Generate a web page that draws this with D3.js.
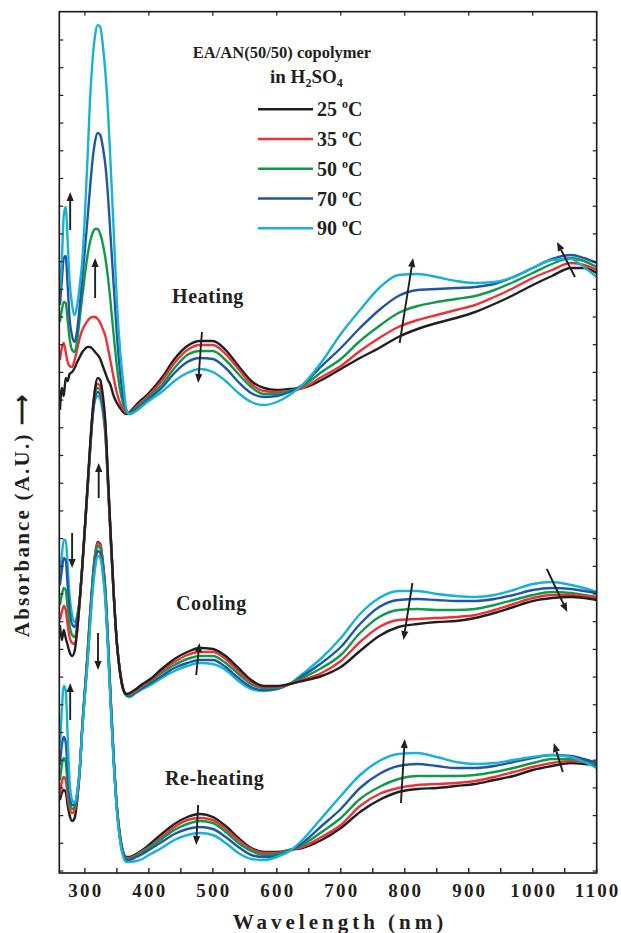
<!DOCTYPE html>
<html>
<head>
<meta charset="utf-8">
<script src="https://cdn.jsdelivr.net/npm/d3@7"></script>
<style>
  html, body { margin: 0; padding: 0; background: #fff; }
  svg { display: block; }
  text { font-family: "Liberation Serif", "Times New Roman", serif; font-weight: bold; fill: #231f20; }
</style>
</head>
<body>
<svg id="chart" width="621" height="933"></svg>
<script>
// Wavelength grid (nm) shared by every spectrum
const wavelengths = [
  261, 264, 267, 270, 273, 276, 280, 284, 288, 292, 296, 300, 304, 308, 312, 316, 320, 324, 328, 332,
  336, 340, 345, 350, 355, 360, 365, 370, 380, 390,
  400, 420, 440, 460, 480, 500, 520, 540, 560, 580, 600, 620, 640, 670, 700, 730, 760, 790, 820, 850,
  880, 910, 940, 970, 1000, 1030, 1060, 1080, 1100
];

const temperatures = ["25", "35", "50", "70", "90"];

// Absorbance (arbitrary units, stacked traces) — first heating
const heating25 = [590, 612, 604, 622, 619, 626, 628, 632, 638, 643, 648, 651, 653, 653, 651, 648, 645, 641, 634, 627,
  620, 615, 604, 597, 592, 588, 586, 588, 595, 601,
  607, 622, 641, 654, 659, 659, 650, 634, 619, 612, 610, 611, 612, 620, 631, 642, 652, 663, 671, 677,
  682, 688, 696, 705, 715, 724, 732, 732, 727];
const heating35 = [640, 652, 657, 648, 638, 634, 633, 640, 651, 662, 670, 675, 679, 682, 683, 683, 681, 677, 671, 664,
  652, 639, 622, 607, 597, 591, 587, 587, 593, 599,
  605, 619, 637, 650, 655, 655, 646, 631, 616, 609, 608, 609, 612, 623, 634, 649, 662, 673, 680, 685,
  690, 695, 703, 712, 722, 730, 737, 735, 730];
const heating50 = [678, 690, 698, 697, 680, 662, 650, 648, 660, 682, 704, 725, 744, 758, 767, 771, 771, 766, 756, 742,
  723, 699, 665, 634, 610, 596, 588, 587, 592, 597,
  603, 615, 632, 645, 649, 649, 640, 626, 613, 606, 606, 609, 614, 628, 641, 659, 674, 687, 694, 698,
  701, 704, 710, 718, 727, 736, 742, 739, 733];
const heating70 = [695, 720, 742, 744, 715, 682, 664, 658, 670, 695, 722, 750, 780, 812, 840, 859, 867, 865, 853, 835,
  805, 765, 715, 665, 628, 602, 589, 586, 591, 595,
  601, 612, 627, 638, 642, 641, 632, 618, 607, 603, 604, 608, 615, 634, 652, 672, 690, 704, 710, 711,
  712, 713, 716, 723, 732, 741, 745, 742, 737];
const heating90 = [710, 740, 785, 793, 760, 720, 695, 685, 695, 715, 740, 785, 840, 900, 940, 965, 975, 973, 955, 928,
  890, 838, 770, 698, 650, 617, 590, 586, 589, 594,
  599, 608, 619, 627, 631, 628, 619, 607, 598, 595, 598, 605, 615, 638, 666, 690, 712, 725, 726, 723,
  719, 717, 718, 723, 732, 740, 741, 733, 723];

// Cooling
const cooling25 = [375, 360, 370, 362, 355, 348, 344, 349, 370, 400, 435, 473, 513, 553, 588, 612, 622, 620, 605, 578,
  525, 470, 407, 357, 327, 310, 306, 307, 311, 316,
  320, 331, 341, 348, 352, 351, 344, 332, 320, 314, 314, 316, 319, 324, 333, 349, 364, 373, 376, 378,
  379, 382, 387, 393, 399, 402, 403, 402, 400];
const cooling35 = [380, 388, 394, 390, 375, 363, 357, 356, 370, 399, 434, 472, 511, 551, 587, 610, 616, 614, 600, 575,
  522, 468, 407, 357, 328, 311, 306, 306, 310, 315,
  319, 329, 338, 345, 348, 348, 341, 329, 318, 313, 313, 316, 320, 327, 339, 358, 373, 380, 381, 382,
  383, 385, 390, 396, 402, 405, 405, 404, 402];
const cooling50 = [395, 405, 412, 410, 392, 375, 365, 363, 375, 400, 434, 472, 510, 550, 586, 607, 612, 610, 597, 572,
  520, 467, 406, 357, 328, 311, 305, 305, 309, 314,
  318, 327, 335, 341, 344, 344, 337, 326, 316, 312, 312, 316, 322, 332, 345, 367, 383, 390, 391, 390,
  390, 391, 395, 400, 405, 408, 407, 405, 403];
const cooling70 = [415, 430, 442, 440, 415, 390, 376, 373, 382, 401, 434, 471, 509, 548, 583, 603, 608, 605, 592, 568,
  518, 466, 406, 357, 328, 311, 305, 304, 308, 312,
  316, 324, 332, 337, 340, 340, 333, 322, 313, 310, 311, 316, 324, 337, 353, 376, 393, 400, 401, 400,
  399, 399, 401, 405, 410, 412, 411, 409, 407];
const cooling90 = [425, 445, 460, 460, 435, 405, 385, 378, 385, 402, 434, 471, 510, 548, 582, 600, 604, 601, 588, 564,
  515, 465, 405, 357, 328, 311, 304, 303, 307, 311,
  314, 322, 329, 334, 337, 336, 330, 319, 311, 309, 311, 316, 326, 342, 362, 386, 402, 409, 409, 406,
  404, 403, 405, 410, 416, 418, 415, 412, 408];

// Re-heating
const reheating25 = [200, 207, 210, 208, 195, 185, 179, 182, 200, 230, 275, 310, 345, 385, 420, 446, 458, 456, 438, 410,
  360, 306, 243, 194, 164, 148, 143, 143, 146, 150,
  155, 166, 176, 183, 186, 183, 174, 162, 152, 148, 148, 150, 152, 160, 172, 188, 200, 208, 211, 212,
  214, 216, 220, 224, 230, 234, 237, 236, 235];
const reheating35 = [205, 218, 223, 220, 203, 192, 187, 190, 203, 230, 274, 309, 344, 384, 419, 445, 457, 455, 438, 410,
  360, 305, 242, 193, 163, 147, 142, 142, 145, 149,
  153, 163, 173, 180, 182, 180, 171, 160, 151, 147, 147, 150, 153, 163, 175, 194, 206, 212, 215, 216,
  217, 219, 223, 228, 233, 237, 239, 238, 236];
const reheating50 = [220, 235, 242, 238, 215, 198, 191, 193, 205, 230, 273, 308, 342, 381, 416, 442, 454, 452, 435, 407,
  358, 303, 241, 192, 162, 146, 141, 141, 144, 148,
  152, 161, 170, 176, 179, 177, 168, 157, 149, 145, 146, 150, 155, 168, 182, 201, 213, 221, 224, 224,
  224, 225, 228, 232, 237, 241, 241, 239, 236];
const reheating70 = [235, 255, 263, 258, 230, 205, 195, 195, 207, 231, 272, 306, 339, 377, 412, 437, 449, 447, 431, 403,
  355, 301, 239, 191, 161, 145, 140, 140, 143, 146,
  150, 158, 166, 171, 173, 171, 163, 153, 145, 143, 144, 149, 157, 174, 191, 212, 226, 234, 236, 234,
  232, 232, 234, 238, 242, 245, 244, 241, 237];
const reheating90 = [250, 290, 314, 310, 265, 220, 200, 197, 208, 232, 271, 304, 336, 373, 407, 432, 444, 442, 426, 399,
  352, 298, 237, 189, 159, 143, 138, 138, 139, 141,
  145, 152, 160, 165, 167, 165, 157, 147, 141, 140, 143, 149, 160, 182, 204, 225, 239, 246, 247, 243,
  238, 236, 237, 240, 243, 245, 243, 238, 232];

// Axis tick values
const xMajorTicks = [300, 400, 500, 600, 700, 800, 900, 1000, 1100];
const xMinorTicks = [350, 450, 550, 650, 750, 850, 950, 1050];
const yTicks = d3.range(960, 127, -27.7);

// Trend arrows: [λ start, A start, λ end, A end] (head at the end)
const arrows = [
  [277, 770, 277, 808], [316, 702, 316, 742], [483, 668, 477, 617], [792, 657, 813, 742], [1066, 723, 1038, 758],
  [280, 467, 280, 432], [321.6, 502, 321.6, 537], [474, 325, 479, 357], [812, 417, 798, 360], [1022, 431, 1054, 388],
  [277, 280, 277, 317], [320.5, 367, 320.5, 330], [477, 195, 474, 155], [794, 197, 800, 261], [1047, 228, 1033, 257]
];

const colors = ["#231f20", "#ec3237", "#0f9a4a", "#2156a5", "#17b2d4"];

const groups = [
  { name: "Heating", series: [heating25, heating35, heating50, heating70, heating90], order: [0, 1, 2, 3, 4], label: [172, 303] },
  { name: "Cooling", series: [cooling25, cooling35, cooling50, cooling70, cooling90], order: [4, 3, 2, 1, 0], label: [176, 610] },
  { name: "Re-heating", series: [reheating25, reheating35, reheating50, reheating70, reheating90], order: [0, 1, 2, 3, 4], label: [165, 785] }
];

const svg = d3.select("#chart");
const plot = { left: 59.3, right: 596.7, top: 11.7, bottom: 873 };

const x = d3.scaleLinear().domain([260, 1100]).range([plot.left, plot.right]);
const y = d3.scaleLinear().domain([127, 988.3]).range([plot.bottom, plot.top]);

const line = d3.line()
  .x(d => x(d[0]))
  .y(d => y(d[1]))
  .curve(d3.curveMonotoneX);

svg.append("clipPath").attr("id", "plot-clip")
  .append("rect")
  .attr("x", plot.left).attr("y", plot.top)
  .attr("width", plot.right - plot.left).attr("height", plot.bottom - plot.top);

const curves = svg.append("g").attr("clip-path", "url(#plot-clip)");
groups.forEach(g => {
  g.order.forEach(i => {
    const pts = wavelengths.map((w, k) => [w, g.series[i][k]]);
    curves.append("path")
      .attr("d", line(pts))
      .attr("fill", "none")
      .attr("stroke", colors[i])
      .attr("stroke-width", 2.4)
      .attr("stroke-linejoin", "round");
  });
});

// trend arrows
const arrowG = svg.append("g");
arrows.forEach(a => {
  const x1 = x(a[0]), y1 = y(a[1]), x2 = x(a[2]), y2 = y(a[3]);
  const ang = Math.atan2(y2 - y1, x2 - x1);
  const hl = 9, hw = 3.6;
  const bx = x2 - hl * Math.cos(ang), by = y2 - hl * Math.sin(ang);
  arrowG.append("line")
    .attr("x1", x1).attr("y1", y1).attr("x2", bx).attr("y2", by)
    .attr("stroke", "#231f20").attr("stroke-width", 1.9);
  const px = -Math.sin(ang) * hw, py = Math.cos(ang) * hw;
  arrowG.append("path")
    .attr("d", `M${x2},${y2}L${bx + px},${by + py}L${bx - px},${by - py}Z`)
    .attr("fill", "#231f20");
});

// frame and ticks
const axisG = svg.append("g").attr("stroke", "#231f20");
axisG.append("rect")
  .attr("x", plot.left).attr("y", plot.top)
  .attr("width", plot.right - plot.left).attr("height", plot.bottom - plot.top)
  .attr("fill", "none").attr("stroke-width", 1.7);

xMajorTicks.concat(xMinorTicks).forEach(t => {
  axisG.append("line").attr("x1", x(t)).attr("x2", x(t))
    .attr("y1", plot.bottom).attr("y2", plot.bottom - 5).attr("stroke-width", 1.4);
});
xMajorTicks.forEach(t => {
  axisG.append("line").attr("x1", x(t)).attr("x2", x(t))
    .attr("y1", plot.top).attr("y2", plot.top + 4).attr("stroke-width", 1.2);
});
yTicks.forEach(t => {
  axisG.append("line").attr("x1", plot.left).attr("x2", plot.left + 4)
    .attr("y1", y(t)).attr("y2", y(t)).attr("stroke-width", 1.2);
  axisG.append("line").attr("x1", plot.right).attr("x2", plot.right - 4)
    .attr("y1", y(t)).attr("y2", y(t)).attr("stroke-width", 1.2);
});

// tick labels
svg.append("g").selectAll("text")
  .data(xMajorTicks)
  .join("text")
  .attr("x", d => x(d) + 1)
  .attr("y", 897)
  .attr("text-anchor", "middle")
  .attr("font-size", 19)
  .attr("letter-spacing", 2.2)
  .text(d => d);

// axis titles
svg.append("text")
  .attr("x", 340).attr("y", 929)
  .attr("text-anchor", "middle")
  .attr("font-size", 21)
  .attr("letter-spacing", 4)
  .text("Wavelength (nm)");

svg.append("text")
  .attr("transform", "translate(29,515) rotate(-90)")
  .attr("text-anchor", "middle")
  .attr("font-size", 21)
  .attr("letter-spacing", 2.2)
  .text("Absorbance  (A.U.) \u27F6");

// group labels
groups.forEach(g => {
  svg.append("text")
    .attr("x", g.label[0]).attr("y", g.label[1])
    .attr("font-size", 20)
    .attr("letter-spacing", 0.6)
    .text(g.name);
});

// legend
const legend = svg.append("g");
legend.append("text").attr("x", 282).attr("y", 58).attr("text-anchor", "middle")
  .attr("font-size", 16.5).text("EA/AN(50/50) copolymer");
const sub = legend.append("text").attr("x", 270).attr("y", 83).attr("font-size", 19);
sub.append("tspan").text("in H");
sub.append("tspan").attr("font-size", 12).attr("dy", 4).text("2");
sub.append("tspan").attr("dy", -4).text("SO");
sub.append("tspan").attr("font-size", 12).attr("dy", 4).text("4");

temperatures.forEach((t, i) => {
  const ly = 109.3 + i * 29.75;
  legend.append("line")
    .attr("x1", 258).attr("x2", 313).attr("y1", ly).attr("y2", ly)
    .attr("stroke", colors[i]).attr("stroke-width", 2.4);
  const tx = legend.append("text").attr("x", 317).attr("y", ly + 7).attr("font-size", 20);
  tx.append("tspan").text(t + " ");
  tx.append("tspan").attr("font-size", 12).attr("dy", -8).text("o");
  tx.append("tspan").attr("dy", 8).text("C");
});
</script>
</body>
</html>
